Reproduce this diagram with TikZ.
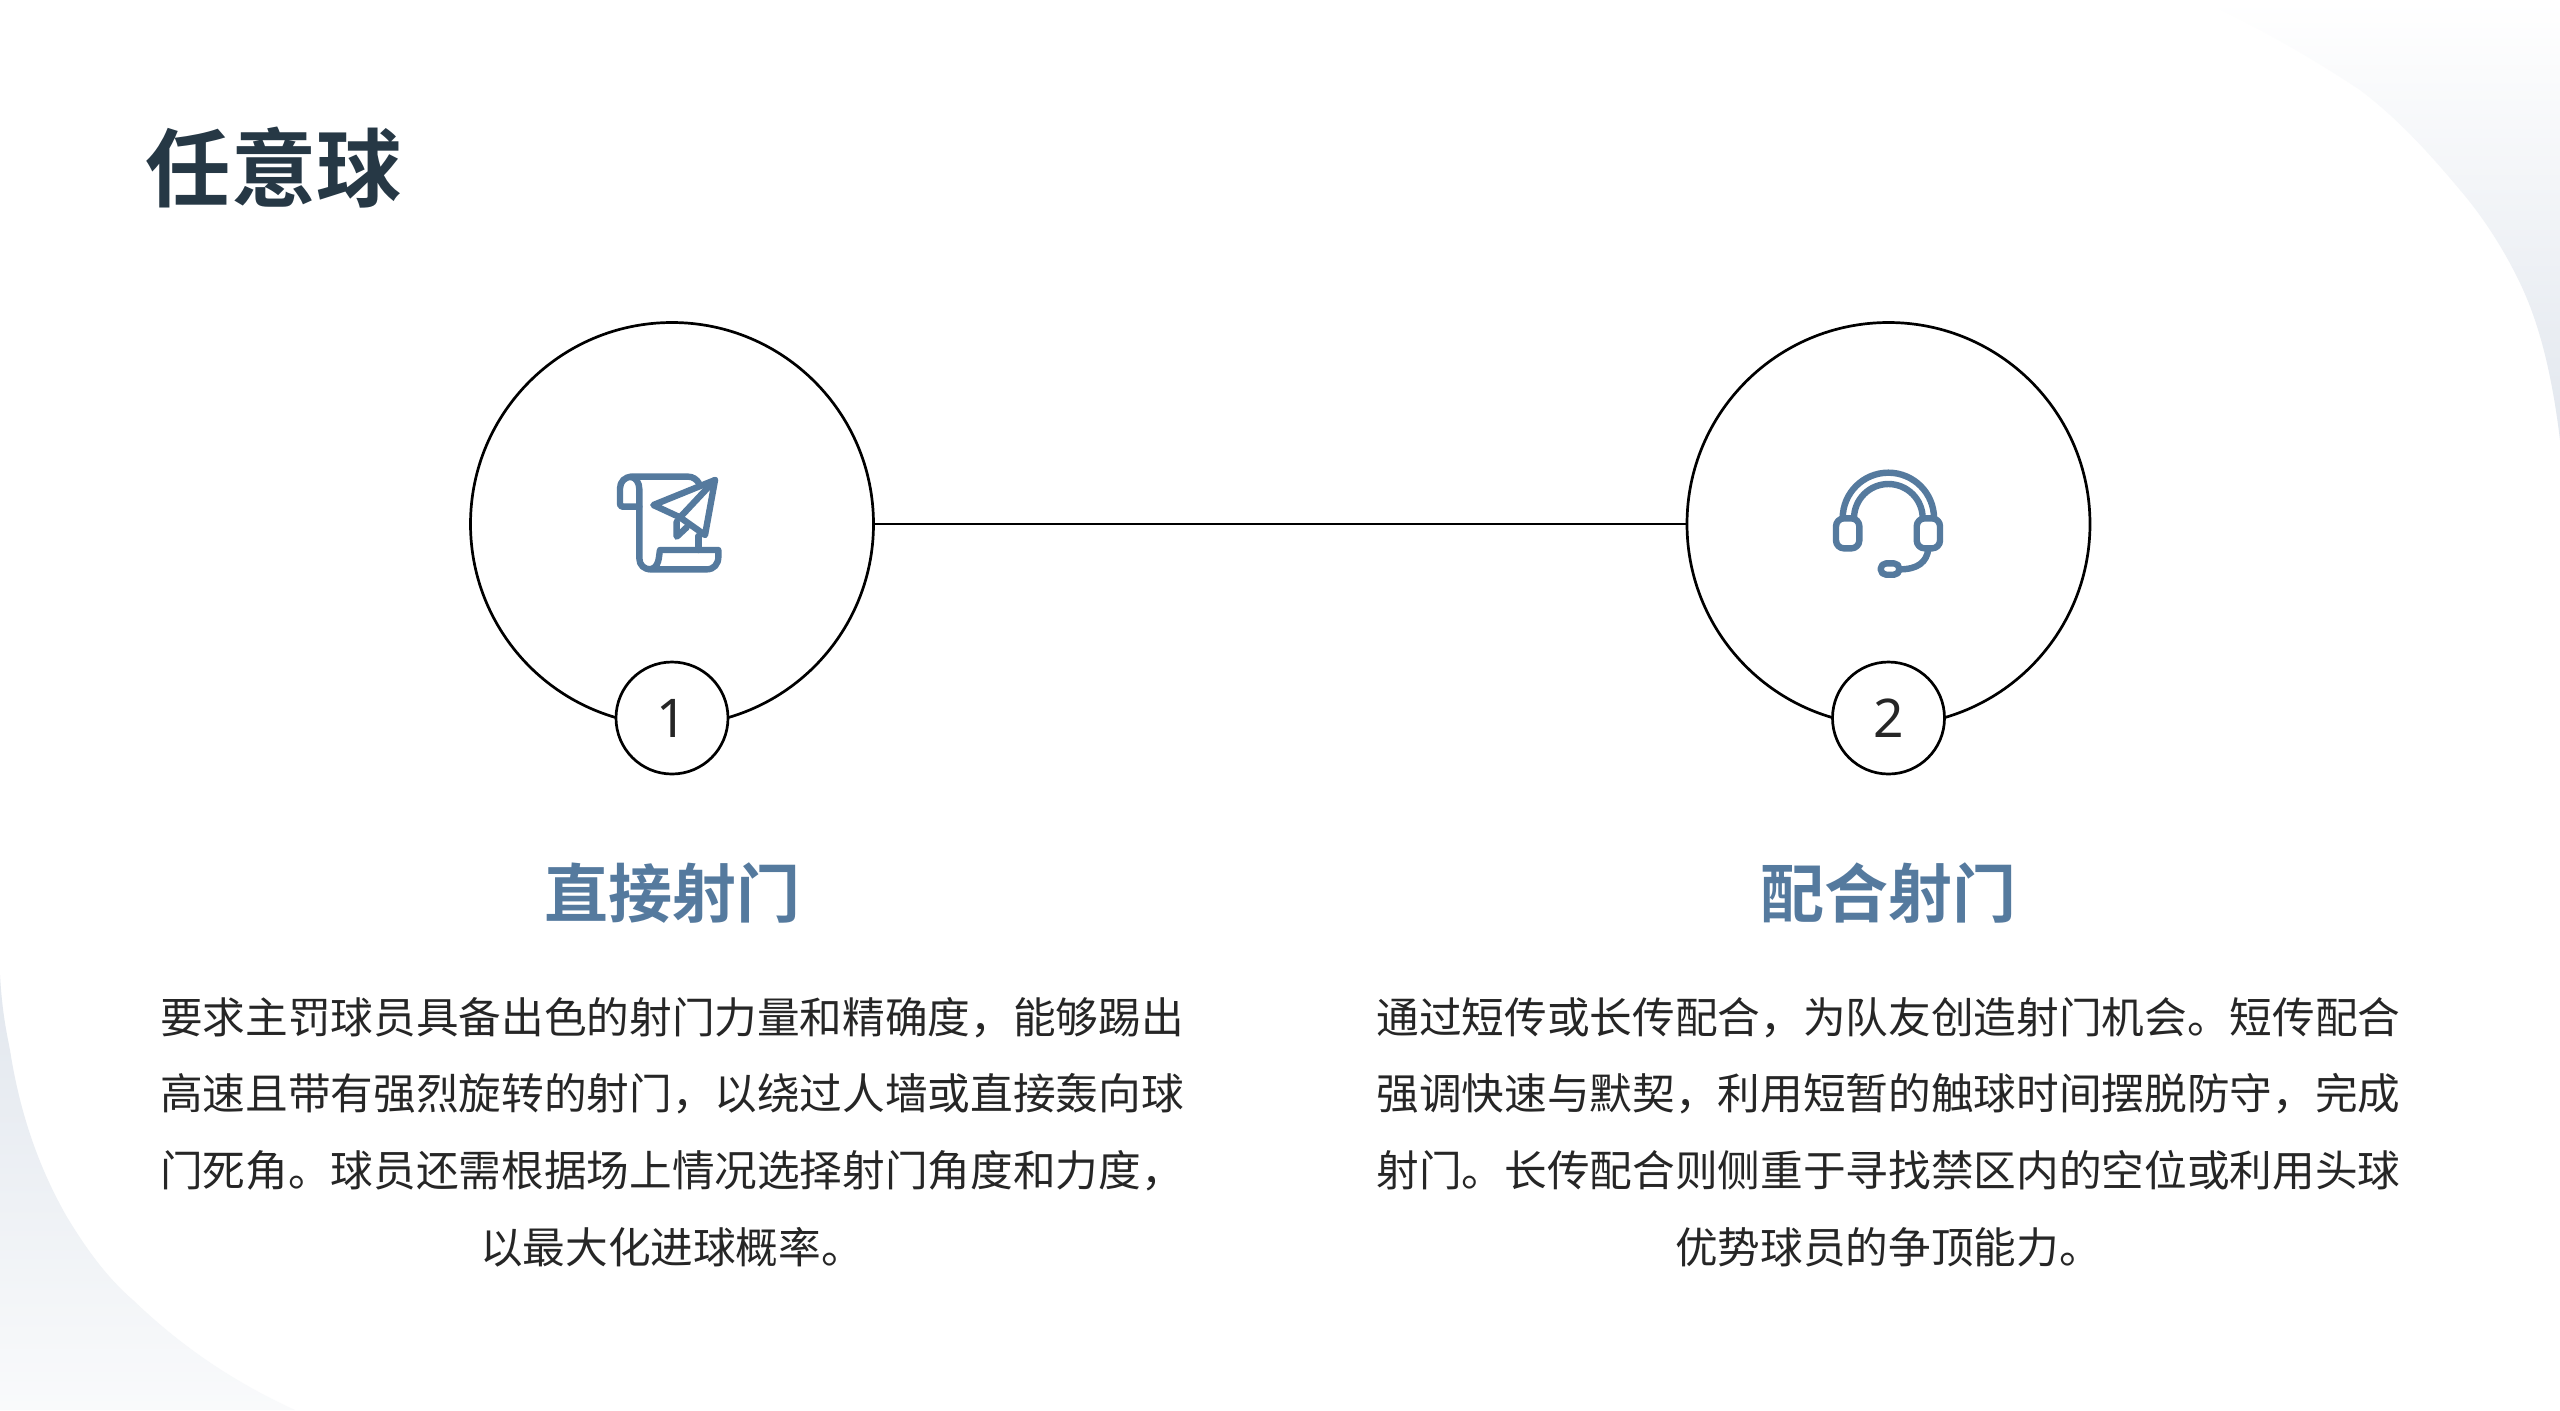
\documentclass[tikz,border=0pt]{standalone}
\usepackage{fontspec}
\setmainfont{Noto Sans}
\newfontfamily\cjk[BoldFont={Noto Sans CJK SC Bold}]{Noto Sans CJK SC}
\definecolor{iconblue}{HTML}{557A9E}
\definecolor{titlecol}{HTML}{263845}
\definecolor{bodycol}{HTML}{262626}
\definecolor{cornerA}{HTML}{E2E7EE}
\definecolor{cornerB}{HTML}{F0F3F6}
\tikzset{
  bigring/.style={circle,draw=black,line width=1.35pt,fill=white,minimum size=201.5pt,inner sep=0pt,outer sep=0pt},
  numring/.style={circle,draw=black,line width=1.35pt,fill=white,minimum size=56pt,inner sep=0pt,outer sep=0pt,text=bodycol,font=\fontsize{26.67pt}{30pt}\selectfont},
  link/.style={draw=black,line width=1.35pt},
  heading/.style={text=iconblue,font=\cjk\bfseries\fontsize{32pt}{38pt}\selectfont,inner sep=0pt},
  bodytext/.style={text=bodycol,align=center,inner sep=0pt,font=\cjk\fontsize{21.33pt}{38.4pt}\selectfont},
  titletext/.style={text=titlecol,font=\cjk\bfseries\fontsize{42.67pt}{50pt}\selectfont,inner sep=0pt,anchor=west},
  iconline/.style={draw=iconblue,line width=3.2pt,line join=round,line cap=round},
}
\begin{document}
\begin{tikzpicture}[x=0.5pt,y=-0.5pt]
\useasboundingbox (0,0) rectangle (2560,1410);
\fill[white] (0,0) rectangle (2560,1410);
% corner washes
\path[top color=white,middle color=cornerB,bottom color=cornerA]
  (2200,0) .. controls (2240,18) and (2300,50) .. (2360,90)
  .. controls (2400,120) and (2435,160) .. (2460,190)
  .. controls (2490,225) and (2510,262) .. (2520,283)
  .. controls (2540,325) and (2552,375) .. (2560,440)
  -- (2560,0) -- cycle;
\path[top color=cornerA,middle color=cornerB,bottom color=white!60!cornerB]
  (0,975) .. controls (2,1010) and (6,1030) .. (10,1050)
  .. controls (20,1115) and (40,1170) .. (67,1217)
  .. controls (90,1255) and (110,1280) .. (133,1300)
  .. controls (180,1345) and (230,1380) .. (295,1410)
  -- (0,1410) -- cycle;
% title
\node[titletext] (title) at (145.5,168) {任意球};
% rings and link
\node[bigring] (ringa) at (672,524) {};
\node[bigring] (ringb) at (1888.5,524) {};
\draw[link] (ringa) -- (ringb);
\node[numring] (numa) at (672,718) {1};
\node[numring] (numb) at (1888.5,718) {2};
% scroll and paper plane icon
\begin{scope}[shift={(580,440)},x=0.1667pt,y=-0.1667pt]
\draw[iconline] (178,200) -- (128,200) .. controls (122,200) and (120,196) .. (120,190) -- (120,145)
  .. controls (120,125) and (135,110) .. (155,110) -- (325,110) .. controls (338,110) and (350,118) .. (357,130);
\draw[iconline] (150,110) .. controls (168,112) and (178,128) .. (178,148) -- (178,355)
  .. controls (178,375) and (192,388) .. (212,388) -- (380,388)
  .. controls (402,388) and (415,372) .. (415,350) -- (415,330) -- (240,330)
  .. controls (236,345) and (240,388) .. (205,388);
\draw[iconline] (405,120) -- (220,195) -- (300,232) -- (375,285) -- cycle;
\draw[iconline] (405,120) -- (300,232);
\draw[iconline] (290,245) -- (290,290) -- (320,262);
\draw[iconline] (355,288) -- (355,330);
\end{scope}
% headset icon
\begin{scope}[shift={(1810,450)},x=0.1667pt,y=-0.1667pt]
\draw[iconline,line cap=butt] (98,205) arc[start angle=180,end angle=360,radius=137];
\draw[iconline,line cap=butt] (132,205) arc[start angle=180,end angle=360,radius=103];
\draw[iconline,rounded corners=4pt] (78,205) rectangle (148,295);
\draw[iconline,rounded corners=4pt] (320,205) rectangle (390,295);
\draw[iconline] (355,297) .. controls (350,335) and (325,358) .. (268,358);
\draw[iconline,rounded corners=2.7pt] (212,340) rectangle (268,374);
\end{scope}
% headings
\node[heading] (heada) at (672,893) {直接射门};
\node[heading] (headb) at (1888.5,893) {配合射门};
% body
\node[bodytext] (bodya) at (672,1132) {要求主罚球员具备出色的射门力量和精确度，能够踢出\\高速且带有强烈旋转的射门，以绕过人墙或直接轰向球\\门死角。球员还需根据场上情况选择射门角度和力度，\\以最大化进球概率。};
\node[bodytext] (bodyb) at (1888.5,1132) {通过短传或长传配合，为队友创造射门机会。短传配合\\强调快速与默契，利用短暂的触球时间摆脱防守，完成\\射门。长传配合则侧重于寻找禁区内的空位或利用头球\\优势球员的争顶能力。};
\end{tikzpicture}
\end{document}
